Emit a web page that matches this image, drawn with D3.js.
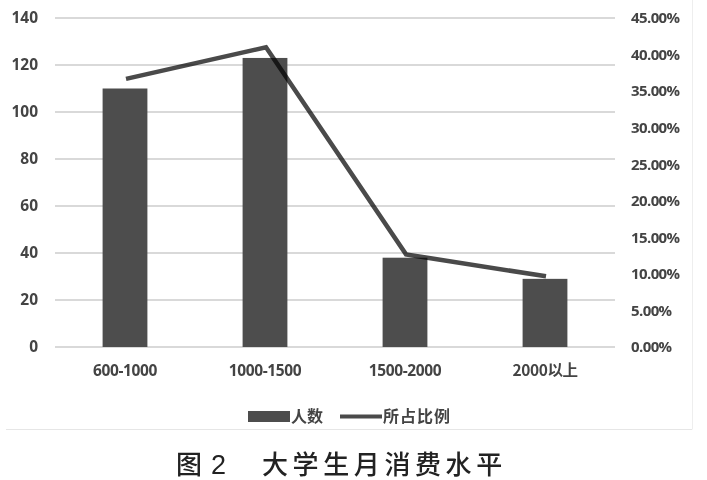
<!DOCTYPE html>
<html><head><meta charset="utf-8">
<script src="https://cdn.jsdelivr.net/npm/d3@7"></script>
<style>
html,body{margin:0;padding:0;background:#fff;}
svg{display:block;}
</style></head>
<body>
<svg id="c" width="707" height="480"></svg>
<script>
const categories = ["600-1000", "1000-1500", "1500-2000", "2000以上"];
const counts = [110, 123, 38, 29];
const shares = [0.3667, 0.41, 0.1267, 0.0967];
const leftTicks = [0, 20, 40, 60, 80, 100, 120, 140];
const rightTicks = [0, 0.05, 0.10, 0.15, 0.20, 0.25, 0.30, 0.35, 0.40, 0.45];
const legendLabels = ["人数", "所占比例"];
const caption = ["图", "2", "大学生月消费水平"];

const svg = d3.select("#c");
const L = 55, R = 615, T = 18, B = 347;
const x = d3.scaleBand().domain(categories).range([L, R]).paddingInner(0.68).paddingOuter(0.34);
const yL = d3.scaleLinear().domain([0, 140]).range([B, T]);
const yR = d3.scaleLinear().domain([0, 0.45]).range([B, T]);
const numFont = "'Open Sans', 'Liberation Sans', sans-serif";
const cjkFont = "'Noto Sans CJK SC', 'Open Sans', sans-serif";
const txt = "#444";

// frame lines
svg.append("line").attr("x1", 6).attr("x2", 692).attr("y1", 429.5).attr("y2", 429.5).attr("stroke", "#e6e6e6").attr("stroke-width", 1);
svg.append("line").attr("x1", 692.5).attr("x2", 692.5).attr("y1", 0).attr("y2", 429.5).attr("stroke", "#eeeeee").attr("stroke-width", 1);

// grid
svg.append("g").selectAll("line").data(leftTicks).join("line")
  .attr("x1", L).attr("x2", R)
  .attr("y1", d => yL(d)).attr("y2", d => yL(d))
  .attr("stroke", "#d9d9d9").attr("stroke-width", 2);

// left axis
const gL = svg.append("g").attr("transform", `translate(${L - 15},0)`)
  .call(d3.axisLeft(yL).tickValues(leftTicks).tickSize(0).tickPadding(2));
gL.select(".domain").remove();
gL.selectAll("text").attr("font-family", numFont).attr("font-weight", "bold").attr("font-size", 15.5).attr("fill", txt);

// right axis
const gR = svg.append("g").attr("transform", `translate(${R + 14},0)`)
  .call(d3.axisRight(yR).tickValues(rightTicks).tickSize(0).tickPadding(2).tickFormat(d => (d * 100).toFixed(2) + "%"));
gR.select(".domain").remove();
gR.selectAll("text").attr("font-family", numFont).attr("font-weight", "bold").attr("font-size", 15).attr("fill", txt).attr("letter-spacing", -0.6);

// x axis labels
const gX = svg.append("g").attr("transform", `translate(0,${B + 16})`)
  .call(d3.axisBottom(x).tickSize(0).tickPadding(2));
gX.select(".domain").remove();
gX.selectAll("text").attr("font-family", d => /以/.test(d) ? cjkFont : numFont).attr("font-weight", "bold").attr("font-size", 15.5).attr("fill", txt).attr("letter-spacing", -0.4);

// bars
svg.append("g").selectAll("rect").data(categories).join("rect")
  .attr("x", d => x(d)).attr("width", x.bandwidth())
  .attr("y", (d, i) => yL(counts[i])).attr("height", (d, i) => B - yL(counts[i]))
  .attr("fill", "#4d4d4d");

// line
const line = d3.line().x((d, i) => x(categories[i]) + x.bandwidth() / 2 + 1).y(d => yR(d));
svg.append("path").datum(shares).attr("d", line)
  .attr("fill", "none").attr("stroke", "#4a4a4a").attr("stroke-width", 4.5)
  .attr("stroke-linejoin", "miter").style("mix-blend-mode", "multiply");

// legend
const lg = svg.append("g");
lg.append("rect").attr("x", 248).attr("y", 411).attr("width", 42).attr("height", 11).attr("fill", "#4d4d4d");
lg.append("text").attr("x", 291).attr("y", 422).text(legendLabels[0])
  .attr("font-family", cjkFont).attr("font-weight", "bold").attr("font-size", 16).attr("fill", txt);
lg.append("line").attr("x1", 340).attr("x2", 382).attr("y1", 416.5).attr("y2", 416.5).attr("stroke", "#4a4a4a").attr("stroke-width", 4);
lg.append("text").attr("x", 383).attr("y", 422).text(legendLabels[1])
  .attr("font-family", cjkFont).attr("font-weight", "bold").attr("font-size", 16).attr("fill", txt).attr("letter-spacing", 1);

// caption
const cap = svg.append("g").attr("font-family", cjkFont).attr("font-size", 26).attr("font-weight", 500).attr("fill", "#222");
cap.append("text").attr("x", 176).attr("y", 474).text(caption[0]);
cap.append("text").attr("x", 211).attr("y", 474).attr("font-family", "'Liberation Sans', sans-serif").attr("font-weight", "normal").attr("font-size", 27).text(caption[1]);
cap.append("text").attr("x", 262).attr("y", 474).attr("letter-spacing", 4.6).text(caption[2]);
</script>
</body></html>
